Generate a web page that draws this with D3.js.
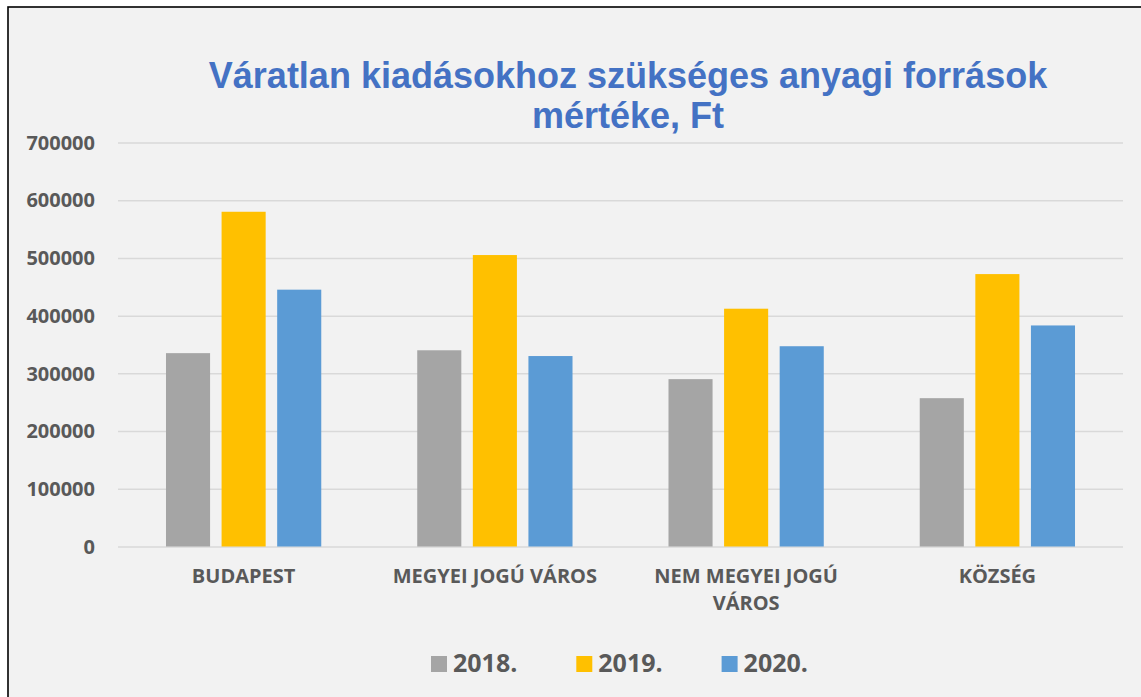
<!DOCTYPE html>
<html>
<head>
<meta charset="utf-8">
<script src="https://cdn.jsdelivr.net/npm/d3@7"></script>
<style>
  body { margin: 0; background: #fff; }
  svg { display: block; }
</style>
</head>
<body>
<div id="chart"></div>
<script>
var categories = ["BUDAPEST", "MEGYEI JOGÚ VÁROS", "NEM MEGYEI JOGÚ VÁROS", "KÖZSÉG"];
var categoryLines = [["BUDAPEST"], ["MEGYEI JOGÚ VÁROS"], ["NEM MEGYEI JOGÚ", "VÁROS"], ["KÖZSÉG"]];
var years = ["2018.", "2019.", "2020."];
var values2018 = [335000, 340000, 290000, 257000];
var values2019 = [580000, 505000, 412000, 472000];
var values2020 = [445000, 330000, 347000, 383000];
var yTicks = [0, 100000, 200000, 300000, 400000, 500000, 600000, 700000];
var colors = ["#A5A5A5", "#FFC000", "#5B9BD5"];

var w = 1141, h = 697,
    p = {"top": 142.5, "right": 18, "left": 118, "bot": 150.5};

var series = [values2018, values2019, values2020];
var data = categories.map(function(c, i){
  return {cat: c, vals: series.map(function(s, j){ return {year: years[j], v: s[i], j: j}; })};
});

var svg = d3.select("#chart").append("svg")
  .attr("width", w)
  .attr("height", h);

// chart background with top/left border
svg.append("rect")
  .attr("x", 8).attr("y", 7)
  .attr("width", w).attr("height", h)
  .style("fill", "#f2f2f2")
  .style("stroke", "#000")
  .style("stroke-width", 1.6);

var x0 = d3.scaleBand()
  .domain(categories)
  .range([p.left, w - p.right])
  .paddingInner(0.382)
  .paddingOuter(0.191);

var x1 = d3.scaleBand()
  .domain(years)
  .range([0, x0.bandwidth()])
  .paddingInner(0.207);

var yScale = d3.scaleLinear()
  .domain([0, 700000])
  .range([h - p.bot, p.top]);

// gridlines
var yAxis = d3.axisLeft(yScale).tickValues(yTicks).tickSize(-(w - p.right - p.left)).tickFormat("");
var grid = svg.append("g")
  .attr("transform", "translate(" + p.left + ",0)")
  .call(yAxis);
grid.select(".domain").remove();
grid.selectAll("line").style("stroke", "#d9d9d9").style("stroke-width", 1.5);

// tick labels
svg.selectAll(".ylab")
  .data(yTicks)
  .enter()
    .append("text")
      .attr("x", 95)
      .attr("y", function(d){ return yScale(d); })
      .attr("dy", "0.36em")
      .style("text-anchor", "end")
      .style("font-family", "'Open Sans'")
      .style("font-weight", "bold")
      .style("font-size", "20px")
      .style("fill", "#595959")
      .text(function(d){ return d; });

// bars
var groups = svg.selectAll(".grp")
  .data(data)
  .enter()
    .append("g")
      .attr("transform", function(d){ return "translate(" + x0(d.cat) + ",0)"; });

groups.selectAll("rect")
  .data(function(d){ return d.vals; })
  .enter()
    .append("rect")
      .attr("x", function(d){ return x1(d.year); })
      .attr("y", function(d){ return yScale(d.v); })
      .attr("width", x1.bandwidth())
      .attr("height", function(d){ return yScale(0) - yScale(d.v); })
      .style("fill", function(d){ return colors[d.j]; });

// category labels
categories.forEach(function(c, i){
  var t = svg.append("text")
    .style("text-anchor", "middle")
    .style("font-family", "'Open Sans'")
    .style("font-weight", "bold")
    .style("font-size", "20px")
    .style("fill", "#595959");
  categoryLines[i].forEach(function(line, k){
    t.append("tspan")
      .attr("x", x0(c) + x0.bandwidth() / 2)
      .attr("y", 583 + k * 27)
      .text(line);
  });
});

// title
var title = svg.append("text")
  .style("text-anchor", "middle")
  .style("font-family", "'Liberation Sans', Arial")
  .style("font-weight", "bold")
  .style("font-size", "36px")
  .style("fill", "#4472C4");
title.append("tspan").attr("x", 628).attr("y", 88).text("Váratlan kiadásokhoz szükséges anyagi források");
title.append("tspan").attr("x", 628).attr("y", 128).text("mértéke, Ft");

// legend
var legend = svg.selectAll(".leg")
  .data(years)
  .enter()
    .append("g")
      .attr("transform", function(d, i){ return "translate(" + (431 + i * 145.3) + ",656)"; });

legend.append("rect")
  .attr("width", 16)
  .attr("height", 16)
  .style("fill", function(d, i){ return colors[i]; });

legend.append("text")
  .attr("x", 22)
  .attr("y", 16)
  .style("font-family", "'Open Sans'")
  .style("font-weight", "bold")
  .style("font-size", "25px")
  .style("fill", "#595959")
  .text(function(d){ return d; });
</script>
</body>
</html>
